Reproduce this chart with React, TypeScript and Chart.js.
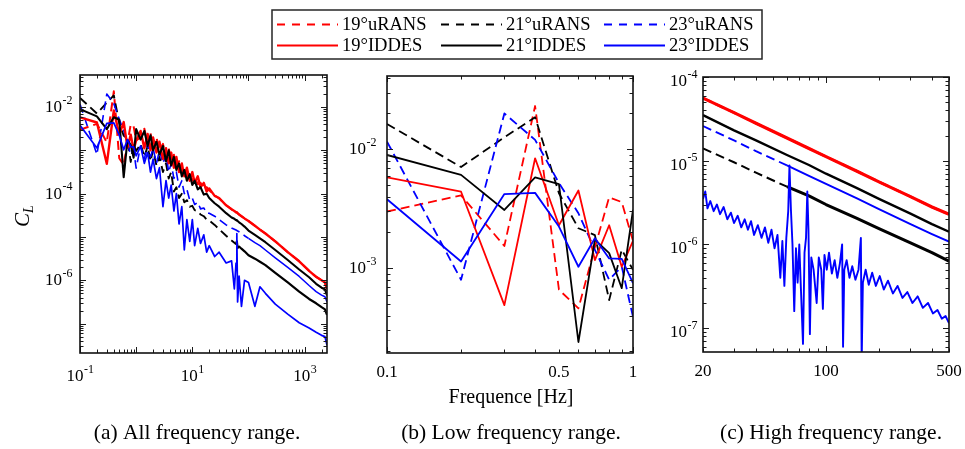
import React, { useEffect, useRef } from "react";
import { Chart, registerables } from "chart.js";

Chart.register(...registerables);

// ---------------- data ----------------
// Low frequency range (panel b, also start of panel a)
const LOW_FREQ = [0.1, 0.2, 0.3, 0.4, 0.5, 0.6, 0.7, 0.8, 0.9, 1.0];
const LOW_19_URANS = [3.0e-3, 4.1e-3, 1.54e-3, 2.31e-2, 6.6e-4, 4.6e-4, 1.5e-3, 3.95e-3, 3.6e-3, 1.7e-3];
const LOW_19_IDDES = [5.8e-3, 4.4e-3, 4.9e-4, 8.4e-3, 2.3e-3, 4.5e-3, 1.17e-3, 2.3e-3, 1.03e-3, 1.7e-3];
const LOW_21_URANS = [1.63e-2, 7.1e-3, 1.26e-2, 1.86e-2, 4.27e-3, 2.17e-3, 1.9e-3, 5.4e-4, 1.43e-3, 9.7e-4];
const LOW_21_IDDES = [8.96e-3, 6.1e-3, 3.09e-3, 5.8e-3, 5.1e-3, 2.4e-4, 1.74e-3, 1.34e-3, 6.8e-4, 3.1e-3];
const LOW_23_URANS = [1.16e-2, 8.0e-4, 2.0e-2, 1.2e-2, 5.2e-3, 2.9e-3, 1.43e-3, 8.0e-4, 1.03e-3, 3.9e-4];
const LOW_23_IDDES = [3.8e-3, 1.14e-3, 4.2e-3, 4.3e-3, 2.24e-3, 1.03e-3, 1.79e-3, 1.21e-3, 1.2e-3, 7.5e-4];

// Panel a, above 1 Hz: values read as log10(C_L)
const A_FREQ = [
  1.2, 1.4, 1.6, 1.8, 2.0, 2.3, 2.6, 3.0, 3.4, 3.8,
  4.2, 4.7, 5.2, 5.8, 6.5, 7.2, 8.0, 9.0, 10, 11,
  12.5, 14, 16, 18, 20, 25, 30, 40, 50, 56,
  60, 62, 64, 68, 75, 85, 100, 130, 160, 200,
  300, 500, 800, 1200, 1600, 2000, 2300, 2500,
];
const A_19_URANS_LOG10 = [
  -2.7, -2.5, -2.85, -2.6, -2.95, -2.7, -3.0, -2.85, -3.15, -2.95,
  -3.25, -3.1, -3.35, -3.25, -3.5, -3.4, -3.6, -3.5, -3.7, -3.62,
  -3.78, -3.75, -3.88, -3.85, -3.92, -4.04, -4.11, -4.26, -4.36, -4.4,
  -4.43, -4.44, -4.45, -4.48, -4.52, -4.57, -4.63, -4.74, -4.83, -4.92,
  -5.1, -5.35, -5.56, -5.78, -5.92, -6.0, -6.05, -6.2,
];
const A_19_IDDES_LOG10 = [
  -2.55, -2.95, -2.62, -3.0, -2.7, -3.05, -2.8, -3.2, -2.95, -3.3,
  -3.05, -3.4, -3.15, -3.5, -3.3, -3.6, -3.4, -3.7, -3.5, -3.75,
  -3.6, -3.85, -3.75, -3.95, -3.88, -4.05, -4.1, -4.27, -4.36, -4.4,
  -4.43, -4.44, -4.45, -4.48, -4.52, -4.57, -4.63, -4.74, -4.83, -4.92,
  -5.1, -5.35, -5.56, -5.78, -5.92, -6.0, -6.05, -6.2,
];
const A_21_URANS_LOG10 = [
  -2.85, -3.15, -2.9, -3.25, -3.0, -3.35, -3.15, -3.5, -3.3, -3.65,
  -3.5, -3.95, -3.85, -4.1, -4.0, -4.2, -4.15, -4.3, -4.28, -4.38,
  -4.4, -4.48, -4.52, -4.6, -4.62, -4.72, -4.82, -4.97, -5.08, -5.13,
  -5.17, -5.1, -5.25, -5.22, -5.27, -5.33, -5.42, -5.5, -5.57, -5.65,
  -5.83, -6.05, -6.26, -6.43, -6.53, -6.62, -6.67, -6.8,
];
const A_21_IDDES_LOG10 = [
  -2.75, -2.55, -2.9, -2.65, -3.0, -2.8, -3.1, -2.9, -3.25, -3.0,
  -3.35, -3.15, -3.45, -3.3, -3.6, -3.45, -3.7, -3.55, -3.8, -3.7,
  -3.9, -3.85, -4.02, -4.0, -4.1, -4.22, -4.3, -4.45, -4.55, -4.58,
  -4.61, -4.62, -4.63, -4.66, -4.7, -4.76, -4.85, -4.95, -5.03, -5.12,
  -5.3, -5.53, -5.75, -5.93, -6.08, -6.17, -6.21, -6.35,
];
const A_23_URANS_LOG10 = [
  -2.9, -3.2, -2.85, -3.15, -2.95, -3.3, -3.0, -3.3, -3.1, -3.5,
  -3.3, -3.65, -3.5, -3.85, -3.7, -4.0, -3.9, -4.15, -4.1, -4.25,
  -4.2, -4.35, -4.33, -4.45, -4.45, -4.52, -4.6, -4.72, -4.79, -4.82,
  -4.84, -4.85, -4.86, -4.88, -4.92, -4.97, -5.03, -5.13, -5.2, -5.3,
  -5.48, -5.7, -5.91, -6.12, -6.26, -6.34, -6.38, -6.5,
];
const A_23_IDDES_LOG10 = [
  -2.9, -3.3, -3.05, -3.5, -3.2, -3.65, -3.4, -4.3, -3.7, -4.1,
  -3.8, -4.4, -4.0, -4.7, -4.3, -5.3, -4.6, -5.1, -4.6, -5.2,
  -4.8, -5.15, -4.95, -5.35, -5.2, -5.45, -5.35, -5.6, -5.55, -6.2,
  -5.6, -4.92, -6.5, -5.9, -6.6, -6.0, -6.05, -6.6, -6.15, -6.3,
  -6.55, -6.78, -6.98, -7.1, -7.2, -7.27, -7.3, -7.5,
];

// Panel c (20 - 500 Hz)
const C_FREQ = [20, 30, 40, 60, 80, 100, 150, 200, 300, 400, 500];
const C_19 = [5.6e-5, 3.75e-5, 2.8e-5, 1.87e-5, 1.4e-5, 1.12e-5, 7.5e-6, 5.6e-6, 3.75e-6, 2.8e-6, 2.3e-6];
const C_21_IDDES = [3.5e-5, 2.3e-5, 1.75e-5, 1.17e-5, 8.9e-6, 7.0e-6, 4.7e-6, 3.5e-6, 2.35e-6, 1.75e-6, 1.42e-6];
const C_23_URANS = [2.6e-5, 1.75e-5, 1.3e-5, 8.8e-6, 6.6e-6, 5.3e-6, 3.55e-6, 2.65e-6, 1.76e-6, 1.33e-6, 1.08e-6];
const C_21_URANS = [1.4e-5, 9.6e-6, 7.2e-6, 4.9e-6, 3.8e-6, 3.0e-6, 2.05e-6, 1.55e-6, 1.05e-6, 8.0e-7, 6.3e-7];
const C_23_IDDES_FREQ = [
  20, 20.6, 21.2, 22, 23, 24, 25, 26.2, 27.5, 28.8,
  30, 31.5, 33, 34.5, 36, 37.5, 39, 41, 43, 45,
  47, 49, 51, 53, 55, 56.5, 58, 59.5, 61, 62,
  63.2, 64.5, 66, 67.5, 69, 70.5, 72, 74, 75.5, 77,
  78.3, 79.5, 81, 82.5, 85, 88.5, 91, 94, 96, 98,
  101, 104, 108, 112, 116, 120, 123.5, 125, 127, 131,
  136, 141, 147, 153, 157.8, 159.5, 162, 168, 175, 183,
  192, 202, 213, 225, 240, 255, 272, 290, 310, 332,
  355, 380, 405, 430, 455, 478, 500,
];
const C_23_IDDES = [
  3.5e-6, 4.3e-6, 2.7e-6, 3.3e-6, 2.5e-6, 3.0e-6, 2.3e-6, 2.8e-6, 2.0e-6, 2.4e-6,
  1.8e-6, 2.2e-6, 1.6e-6, 2.0e-6, 1.5e-6, 1.9e-6, 1.3e-6, 1.7e-6, 1.2e-6, 1.6e-6,
  1.05e-6, 1.5e-6, 9e-7, 1.3e-6, 4e-7, 1.1e-6, 3.2e-7, 1.2e-6, 2.5e-6, 8.8e-6,
  2.6e-6, 1.0e-6, 1.6e-7, 9e-7, 3.5e-7, 1.0e-6, 3.0e-7, 6.5e-8, 8e-7, 1.2e-6,
  4.3e-6, 1.5e-6, 8.5e-8, 7e-7, 5e-7, 2.0e-7, 7e-7, 5e-7, 1.7e-7, 7.5e-7,
  5e-7, 8e-7, 4.5e-7, 6.5e-7, 4e-7, 6e-7, 1.0e-6, 6e-8, 5e-7, 6.5e-7,
  4e-7, 5.5e-7, 3.8e-7, 5e-7, 1.2e-6, 4e-8, 3.5e-7, 5e-7, 3.3e-7, 4.6e-7,
  3.2e-7, 4.2e-7, 2.9e-7, 3.7e-7, 2.6e-7, 3.2e-7, 2.3e-7, 2.7e-7, 2.0e-7, 2.4e-7,
  1.75e-7, 2.0e-7, 1.5e-7, 1.65e-7, 1.3e-7, 1.4e-7, 1.15e-7,
];

// Tick labels
const A_X_TICKS = [0.1, 10, 1000];
const A_X_TICK_LABELS = ["10^-1", "10^1", "10^3"];
const A_Y_TICKS = [1e-6, 1e-4, 1e-2];
const A_Y_TICK_LABELS = ["10^-6", "10^-4", "10^-2"];
const B_X_TICKS = [0.1, 0.5, 1];
const B_X_TICK_LABELS = ["0.1", "0.5", "1"];
const B_Y_TICKS = [1e-3, 1e-2];
const B_Y_TICK_LABELS = ["10^-3", "10^-2"];
const C_X_TICKS = [20, 100, 500];
const C_X_TICK_LABELS = ["20", "100", "500"];
const C_Y_TICKS = [1e-7, 1e-6, 1e-5, 1e-4];
const C_Y_TICK_LABELS = ["10^-7", "10^-6", "10^-5", "10^-4"];

const SERIES_LABELS = ["19°uRANS", "21°uRANS", "23°uRANS", "19°IDDES", "21°IDDES", "23°IDDES"];
const CAPTIONS = ["(a) All frequency range.", "(b) Low frequency range.", "(c) High frequency range."];
const X_TITLE = "Frequence [Hz]";

// ---------------- styles ----------------
const FONT = "'Liberation Serif', 'Times New Roman', Times, serif";
const STYLE: Record<string, { color: string; dash: number[] }> = {
  "19°uRANS": { color: "#ff0000", dash: [9, 5] },
  "21°uRANS": { color: "#000000", dash: [9, 5] },
  "23°uRANS": { color: "#0000ff", dash: [9, 5] },
  "19°IDDES": { color: "#ff0000", dash: [] },
  "21°IDDES": { color: "#000000", dash: [] },
  "23°IDDES": { color: "#0000ff", dash: [] },
};
// draw order: first dataset ends up on top
const DRAW_ORDER = ["23°IDDES", "21°IDDES", "19°IDDES", "23°uRANS", "21°uRANS", "19°uRANS"];

const fromLog = (a: number[]) => a.map((v) => Math.pow(10, v));
const pts = (xs: number[], ys: number[]) => xs.map((x, i) => ({ x, y: ys[i] }));
const AB_X = LOW_FREQ.concat(A_FREQ);
const AB_DATA: Record<string, { x: number; y: number }[]> = {
  "19°uRANS": pts(AB_X, LOW_19_URANS.concat(fromLog(A_19_URANS_LOG10))),
  "19°IDDES": pts(AB_X, LOW_19_IDDES.concat(fromLog(A_19_IDDES_LOG10))),
  "21°uRANS": pts(AB_X, LOW_21_URANS.concat(fromLog(A_21_URANS_LOG10))),
  "21°IDDES": pts(AB_X, LOW_21_IDDES.concat(fromLog(A_21_IDDES_LOG10))),
  "23°uRANS": pts(AB_X, LOW_23_URANS.concat(fromLog(A_23_URANS_LOG10))),
  "23°IDDES": pts(AB_X, LOW_23_IDDES.concat(fromLog(A_23_IDDES_LOG10))),
};
const C_DATA: Record<string, { x: number; y: number }[]> = {
  "19°uRANS": pts(C_FREQ, C_19),
  "19°IDDES": pts(C_FREQ, C_19),
  "21°uRANS": pts(C_FREQ, C_21_URANS),
  "21°IDDES": pts(C_FREQ, C_21_IDDES),
  "23°uRANS": pts(C_FREQ, C_23_URANS),
  "23°IDDES": pts(C_23_IDDES_FREQ, C_23_IDDES),
};

type PanelCfg = {
  id: string;
  area: { l: number; t: number; r: number; b: number };
  xMin: number; xMax: number; yMin: number; yMax: number;
  xTicks: number[]; xLabels: string[]; xLabelY: number;
  yTicks: number[]; yLabels: string[]; yGap: number; yDy: number;
  data: Record<string, { x: number; y: number }[]>;
  widths: Record<string, number>;
  // above this frequency the dense noisy dashed trace looks solid (and thicker)
  solidFrom: Record<string, number>;
  solidWidth: Record<string, number>;
  caption: string; captionX: number;
  extra: "ylabel" | "legend" | "none";
};

const PANELS: PanelCfg[] = [
  {
    id: "a", area: { l: 80, t: 75, r: 327, b: 353 },
    xMin: 0.1, xMax: 2500, yMin: 2.1e-8, yMax: 0.055,
    xTicks: A_X_TICKS, xLabels: A_X_TICK_LABELS, xLabelY: 377,
    yTicks: A_Y_TICKS, yLabels: A_Y_TICK_LABELS, yGap: 8, yDy: 0.5,
    data: AB_DATA,
    widths: { "19°IDDES": 2.4, "19°uRANS": 2, "21°IDDES": 2.1, "21°uRANS": 1.9, "23°uRANS": 1.6, "23°IDDES": 1.7 },
    solidFrom: { "21°uRANS": 60, "23°uRANS": 90 },
    solidWidth: { "21°uRANS": 2.2, "23°uRANS": 1.5 },
    caption: CAPTIONS[0], captionX: 197, extra: "ylabel",
  },
  {
    id: "b", area: { l: 387, t: 76, r: 633, b: 353 },
    xMin: 0.1, xMax: 1, yMin: 1.94e-4, yMax: 4.13e-2,
    xTicks: B_X_TICKS, xLabels: B_X_TICK_LABELS, xLabelY: 373,
    yTicks: B_Y_TICKS, yLabels: B_Y_TICK_LABELS, yGap: 11, yDy: 0.5,
    data: AB_DATA, widths: {}, solidFrom: {}, solidWidth: {},
    caption: CAPTIONS[1], captionX: 511, extra: "legend",
  },
  {
    id: "c", area: { l: 703, t: 77, r: 949, b: 352 },
    xMin: 20, xMax: 500, yMin: 5.2e-8, yMax: 1e-4,
    xTicks: C_X_TICKS, xLabels: C_X_TICK_LABELS, xLabelY: 372,
    yTicks: C_Y_TICKS, yLabels: C_Y_TICK_LABELS, yGap: 6, yDy: 4.5,
    data: C_DATA,
    widths: { "19°uRANS": 2.4, "19°IDDES": 3.2, "21°IDDES": 2.4, "21°uRANS": 2, "23°uRANS": 1.9, "23°IDDES": 1.9 },
    solidFrom: { "21°uRANS": 45, "23°uRANS": 60 },
    solidWidth: { "21°uRANS": 3, "23°uRANS": 2 },
    caption: CAPTIONS[2], captionX: 831, extra: "none",
  },
];

function logTicks(min: number, max: number) {
  const out: { v: number; major: boolean }[] = [];
  for (let d = Math.floor(Math.log10(min)) - 1; d <= Math.ceil(Math.log10(max)); d++) {
    for (let m = 1; m <= 9; m++) {
      const v = m * Math.pow(10, d);
      if (v >= min * 0.9999 && v <= max * 1.0001) out.push({ v, major: m === 1 });
    }
  }
  return out;
}

function drawTickLabel(ctx: CanvasRenderingContext2D, text: string, x: number, y: number, align: "center" | "right") {
  const [base, exp] = text.split("^");
  ctx.font = `17px ${FONT}`;
  const wb = ctx.measureText(base).width;
  let we = 0;
  if (exp) {
    ctx.font = `12px ${FONT}`;
    we = ctx.measureText(exp).width;
  }
  const total = wb + we;
  const x0 = align === "center" ? x - total / 2 : x - total;
  ctx.textAlign = "left";
  ctx.textBaseline = "middle";
  ctx.font = `17px ${FONT}`;
  ctx.fillText(base, x0, y);
  if (exp) {
    ctx.font = `12px ${FONT}`;
    ctx.textBaseline = "alphabetic";
    ctx.fillText(exp, x0 + wb + 0.5, y - 4);
  }
}

function drawLegend(ctx: CanvasRenderingContext2D) {
  ctx.save();
  ctx.fillStyle = "#ffffff";
  ctx.fillRect(272, 10, 490, 49);
  ctx.strokeStyle = "#262626";
  ctx.lineWidth = 1.5;
  ctx.strokeRect(272, 10, 490, 49);
  const cols = [277, 441, 604];
  const rows = [24, 45];
  SERIES_LABELS.forEach((label, i) => {
    const cx = cols[i % 3];
    const cy = rows[Math.floor(i / 3)];
    const st = STYLE[label];
    ctx.strokeStyle = st.color;
    ctx.lineWidth = 2;
    ctx.setLineDash(st.dash.length ? [8, 7] : []);
    ctx.beginPath();
    ctx.moveTo(cx, cy + 0.5);
    ctx.lineTo(cx + 61, cy + 0.5);
    ctx.stroke();
    ctx.setLineDash([]);
    ctx.fillStyle = "#000";
    ctx.font = `18.5px ${FONT}`;
    ctx.textAlign = "left";
    ctx.textBaseline = "middle";
    ctx.fillText(label, cx + 65, cy + 1);
  });
  ctx.restore();
}

const framePlugin = {
  id: "panelFrame",
  afterDraw(chart: any, _args: any, opts: any) {
    const cfg: PanelCfg = opts.cfg;
    const ctx = chart.ctx as CanvasRenderingContext2D;
    const { left, right, top, bottom } = chart.chartArea;
    const xs = chart.scales.x;
    const ys = chart.scales.y;
    ctx.save();
    ctx.strokeStyle = "#1a1a1a";
    ctx.lineWidth = 1;
    ctx.beginPath();
    for (const t of logTicks(cfg.xMin, cfg.xMax)) {
      const px = Math.round(xs.getPixelForValue(t.v)) + 0.5;
      const len = t.major ? 6 : 3.5;
      ctx.moveTo(px, bottom);
      ctx.lineTo(px, bottom - len);
      ctx.moveTo(px, top);
      ctx.lineTo(px, top + len);
    }
    for (const t of logTicks(cfg.yMin, cfg.yMax)) {
      const py = Math.round(ys.getPixelForValue(t.v)) + 0.5;
      const len = t.major ? 6 : 3.5;
      ctx.moveTo(left, py);
      ctx.lineTo(left + len, py);
      ctx.moveTo(right, py);
      ctx.lineTo(right - len, py);
    }
    ctx.stroke();
    ctx.lineWidth = 1.6;
    ctx.strokeStyle = "#111";
    ctx.strokeRect(left, top, right - left, bottom - top);

    ctx.fillStyle = "#000";
    cfg.xTicks.forEach((v, i) => drawTickLabel(ctx, cfg.xLabels[i], xs.getPixelForValue(v), cfg.xLabelY, "center"));
    cfg.yTicks.forEach((v, i) => drawTickLabel(ctx, cfg.yLabels[i], left - cfg.yGap, ys.getPixelForValue(v) + cfg.yDy, "right"));

    // caption
    ctx.font = `21.5px ${FONT}`;
    ctx.textAlign = "center";
    ctx.textBaseline = "middle";
    ctx.fillText(cfg.caption, cfg.captionX, 433);

    if (cfg.extra === "ylabel") {
      ctx.save();
      ctx.translate(23, 215);
      ctx.rotate(-Math.PI / 2);
      ctx.textAlign = "left";
      ctx.textBaseline = "alphabetic";
      ctx.font = `italic 21px ${FONT}`;
      const wc = ctx.measureText("C").width;
      ctx.fillText("C", -12, 6);
      ctx.font = `italic 14px ${FONT}`;
      ctx.fillText("L", -12 + wc, 10);
      ctx.restore();
    }
    if (cfg.extra === "legend") {
      ctx.font = `20px ${FONT}`;
      ctx.textAlign = "center";
      ctx.textBaseline = "middle";
      ctx.fillText(X_TITLE, 511, 398);
      drawLegend(ctx);
    }
    ctx.restore();
  },
};

function Panel({ cfg }: { cfg: PanelCfg }) {
  const ref = useRef<HTMLCanvasElement>(null);
  useEffect(() => {
    const canvas = ref.current!;
    const datasets = DRAW_ORDER.map((label) => {
      const baseWidth = cfg.widths[label] ?? 1.8;
      const from = cfg.solidFrom[label];
      return {
        label,
        data: cfg.data[label],
        borderColor: STYLE[label].color,
        backgroundColor: STYLE[label].color,
        borderDash: STYLE[label].dash,
        borderWidth: baseWidth,
        pointRadius: 0,
        tension: 0,
        fill: false,
        borderJoinStyle: "round" as const,
        segment: from
          ? {
              borderDash: (c: any) => (c.p0.parsed.x >= from ? [] : STYLE[label].dash),
              borderWidth: (c: any) => (c.p0.parsed.x >= from ? cfg.solidWidth[label] : baseWidth),
            }
          : undefined,
      };
    });
    const chart = new Chart(canvas, {
      type: "line",
      data: { datasets: datasets as any },
      options: {
        responsive: false,
        devicePixelRatio: 1,
        animation: false,
        events: [],
        layout: {
          padding: { left: cfg.area.l, top: cfg.area.t, right: 965 - cfg.area.r, bottom: 449 - cfg.area.b },
        },
        scales: {
          x: { type: "logarithmic", min: cfg.xMin, max: cfg.xMax, display: false },
          y: { type: "logarithmic", min: cfg.yMin, max: cfg.yMax, display: false },
        },
        plugins: {
          legend: { display: false },
          tooltip: { enabled: false },
          // @ts-ignore
          panelFrame: { cfg },
        },
      },
      plugins: [framePlugin as any],
    });
    return () => chart.destroy();
  }, [cfg]);
  return (
    <canvas
      ref={ref}
      width={965}
      height={449}
      style={{ position: "absolute", left: 0, top: 0, width: 965, height: 449 }}
    />
  );
}

export default function App() {
  return (
    <div style={{ position: "absolute", left: 0, top: 0, width: 965, height: 449, background: "#ffffff", overflow: "hidden" }}>
      {PANELS.map((p) => (
        <Panel key={p.id} cfg={p} />
      ))}
    </div>
  );
}
